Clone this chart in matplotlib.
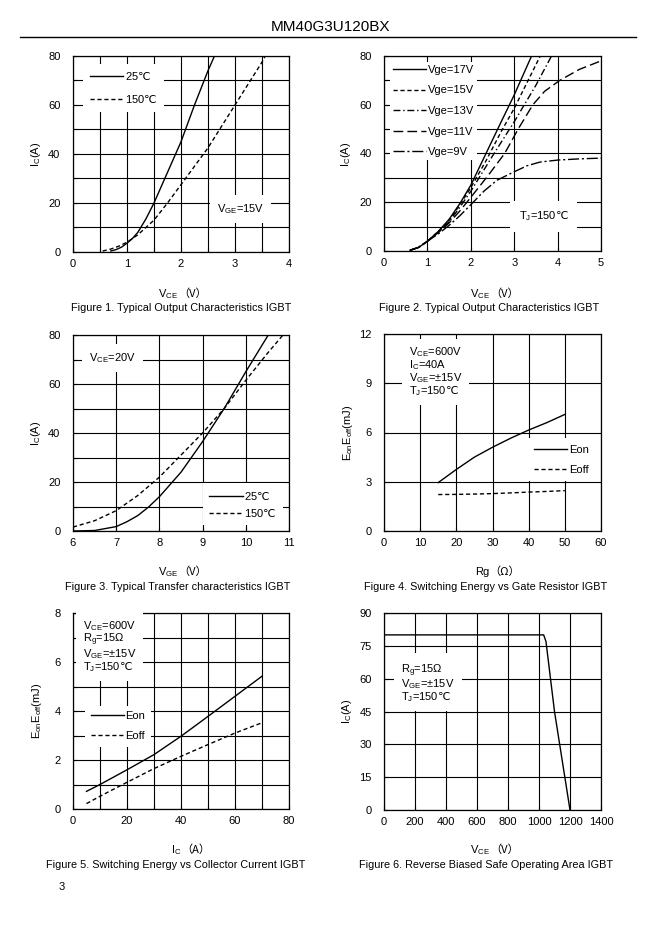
import matplotlib.pyplot as plt
import numpy as np
from matplotlib.ticker import MultipleLocator

plt.rcParams['font.family'] = ['Liberation Sans', 'DejaVu Sans']
plt.rcParams['mathtext.fontset'] = 'custom'
plt.rcParams['mathtext.rm'] = 'Liberation Sans'
plt.rcParams['mathtext.it'] = 'Liberation Sans'
plt.rcParams['mathtext.sf'] = 'DejaVu Sans'
plt.rcParams['axes.linewidth'] = 0.9

DEG = r'$\mathsf{℃}$'
CJK = ['Noto Sans CJK SC', 'DejaVu Sans']

# --- Figure 1: output characteristics, VGE=15V ---
vce1_25 = [0.7, 0.8, 0.9, 1.0, 1.1, 1.2, 1.35, 1.5, 1.7, 2.0, 2.25, 2.5, 2.62]
ic1_25 = [0.4, 1.0, 2.0, 3.6, 5.5, 8.0, 13.5, 20, 30, 45, 60, 74, 80]
vce1_150 = [0.55, 0.7, 0.85, 1.0, 1.2, 1.5, 1.75, 2.0, 2.5, 3.0, 3.5, 3.56]
ic1_150 = [0.4, 1.2, 2.4, 4.0, 7, 13, 20, 27.5, 42.5, 60, 77.5, 80]

# --- Figure 2: output characteristics vs Vge, TJ=150C ---
vce2_17 = [0.6, 0.8, 1.0, 1.25, 1.5, 1.75, 2.0, 2.35, 2.7, 3.0, 3.4]
ic2_17 = [0.3, 1.5, 4, 8, 13, 19.5, 27, 40, 53, 64, 80]
vce2_15 = [0.6, 0.8, 1.0, 1.25, 1.5, 1.75, 2.0, 2.35, 2.7, 3.0, 3.6]
ic2_15 = [0.3, 1.5, 4, 8, 12.5, 19, 26, 37, 49, 58.5, 80]
vce2_13 = [0.6, 0.8, 1.0, 1.25, 1.5, 1.75, 2.0, 2.5, 3.0, 3.5, 3.86]
ic2_13 = [0.3, 1.5, 4, 7.8, 12, 18, 24.5, 39, 53, 68, 80]
vce2_11 = [0.6, 0.8, 1.0, 1.25, 1.5, 1.75, 2.0, 2.4, 2.78, 3.09, 3.43, 3.7, 4.05, 4.5, 5.0]
ic2_11 = [0.3, 1.5, 4, 7.5, 11.5, 16.5, 22, 31, 40, 50, 60, 65.5, 70, 74.5, 78]
vce2_9 = [0.6, 0.8, 1.0, 1.25, 1.5, 1.75, 2.0, 2.3, 2.6, 3.0, 3.3, 3.6, 4.0, 4.5, 5.0]
ic2_9 = [0.3, 1.5, 4, 7, 10.5, 14.5, 19, 24.5, 29, 32.5, 35, 36.5, 37.3, 37.8, 38.1]

# --- Figure 3: transfer characteristics, VCE=20V ---
vge3_25 = [6.0, 6.5, 7.0, 7.25, 7.5, 7.75, 8.0, 8.5, 9.0, 9.5, 10.0, 10.52]
ic3_25 = [0, 0.2, 1.8, 3.8, 6.3, 9.8, 14, 24, 36.5, 50, 65, 80]
vge3_150 = [6.0, 6.5, 7.0, 7.5, 8.0, 8.5, 9.0, 9.5, 10.0, 10.5, 10.86]
ic3_150 = [1.6, 4.2, 8.3, 14.5, 22, 31, 40, 50, 61.5, 72.5, 80]

# --- Figure 4: switching energy vs Rg ---
rg4 = [15, 20, 25, 30, 35, 40, 45, 50]
eon4 = [2.95, 3.75, 4.5, 5.1, 5.65, 6.15, 6.6, 7.1]
eoff4 = [2.22, 2.23, 2.25, 2.28, 2.32, 2.37, 2.41, 2.46]

# --- Figure 5: switching energy vs Ic ---
ic5 = [5, 10, 20, 30, 40, 50, 60, 70]
eon5 = [0.72, 1.0, 1.6, 2.22, 2.97, 3.78, 4.6, 5.42]
eoff5 = [0.22, 0.52, 1.09, 1.65, 2.15, 2.63, 3.1, 3.52]

# --- Figure 6: RBSOA ---
vce6 = [0, 1030, 1045, 1100, 1200]
ic6 = [80, 80, 77, 45, 0]

W, H = 661, 936
fig = plt.figure(figsize=(W / 100, H / 100), dpi=100)
fig.patch.set_facecolor('white')
FS = 8


def pax(l, t, r, b):
    return fig.add_axes([l / W, 1 - b / H, (r - l) / W, (b - t) / H])


def style(ax, xlim, ylim, xmaj, ymaj, xgrid, ygrid):
    ax.set_xlim(*xlim)
    ax.set_ylim(*ylim)
    ax.xaxis.set_major_locator(MultipleLocator(xmaj))
    ax.yaxis.set_major_locator(MultipleLocator(ymaj))
    ax.xaxis.set_minor_locator(MultipleLocator(xgrid))
    ax.yaxis.set_minor_locator(MultipleLocator(ygrid))
    ax.grid(which='both', color='black', lw=0.8)
    ax.tick_params(which='both', direction='in', length=3, width=0.8, labelsize=FS)
    ax.tick_params(axis='x', pad=5)
    ax.tick_params(axis='y', pad=9)
    for s in ax.spines.values():
        s.set_color('black')


def legend(ax, **kw):
    return ax.legend(frameon=True, facecolor='white', edgecolor='none', framealpha=1,
                     fancybox=False, fontsize=FS, handletextpad=0.15, **kw)


def box_text(ax, x, y, s, pad=4, **kw):
    ax.text(x, y, s, fontsize=FS, bbox=dict(facecolor='white', edgecolor='none', pad=pad), **kw)


def fig_label(x, y, s, size=FS, **kw):
    fig.text(x / W, 1 - y / H, s, fontsize=size, ha='center', va='center', **kw)


def unit_label(x, y, name, unit):
    # quantity with subscript, then the full-width bracket unit in a CJK font
    fig.text(x / W, 1 - y / H, name, fontsize=FS, ha='right', va='baseline')
    fig.text(x / W, 1 - y / H, '（' + unit + '）', fontsize=FS, ha='left', va='baseline', family=CJK)


lw = 1.0
CAP = 7.8

# header
fig_label(330, 27, 'MM40G3U120BX', size=11)
fig.add_artist(plt.Line2D([20 / W, 636 / W], [1 - 37 / H, 1 - 37 / H], color='black', lw=1.0))

# Figure 1
ax1 = pax(73, 56, 289, 252)
style(ax1, (0, 4), (0, 80), 1, 20, 0.5, 10)
ax1.plot(vce1_25, ic1_25, color='black', lw=lw, label='25' + DEG)
ax1.plot(vce1_150, ic1_150, color='black', lw=lw, ls=(0, (3, 2)), label='150' + DEG)
legend(ax1, loc='upper left', bbox_to_anchor=(0.02, 0.99), handlelength=3.0, labelspacing=1.0, borderpad=0.6)
box_text(ax1, 3.1, 17.5, r'V$_{\mathrm{GE}}$=15V', ha='center', va='center', pad=5)
unit_label(178, 297, r'V$_{\mathrm{CE}}$', 'V')
fig_label(181, 308, 'Figure 1. Typical Output Characteristics IGBT', size=CAP)
fig_label(36, 154, r'I$_{\mathrm{C}}$(A)', rotation=90)

# Figure 2
ax2 = pax(384, 56, 601, 251)
style(ax2, (0, 5), (0, 80), 1, 20, 1, 10)
ax2.plot(vce2_17, ic2_17, color='black', lw=lw, label='Vge=17V')
ax2.plot(vce2_15, ic2_15, color='black', lw=lw, ls=(0, (3, 2)), label='Vge=15V')
ax2.plot(vce2_13, ic2_13, color='black', lw=lw, ls=(0, (5, 2, 1, 2)), label='Vge=13V')
ax2.plot(vce2_11, ic2_11, color='black', lw=lw, ls=(0, (7, 3)), label='Vge=11V')
ax2.plot(vce2_9, ic2_9, color='black', lw=lw, ls=(0, (8, 2, 1.5, 2)), label='Vge=9V')
legend(ax2, loc='upper left', bbox_to_anchor=(0.0, 1.0), handlelength=3.0, labelspacing=0.95, borderpad=0.3)
box_text(ax2, 3.68, 14.2, r'T$_{\mathrm{J}}$=150' + DEG, ha='center', va='center', pad=6)
unit_label(490, 297, r'V$_{\mathrm{CE}}$', 'V')
fig_label(489, 308, 'Figure 2. Typical Output Characteristics IGBT', size=CAP)
fig_label(346, 154, r'I$_{\mathrm{C}}$(A)', rotation=90)

# Figure 3
ax3 = pax(73, 335, 289, 531)
style(ax3, (6, 11), (0, 80), 1, 20, 1, 10)
ax3.plot(vge3_25, ic3_25, color='black', lw=lw, label='25' + DEG)
ax3.plot(vge3_150, ic3_150, color='black', lw=lw, ls=(0, (3, 2)), label='150' + DEG)
legend(ax3, loc='lower right', bbox_to_anchor=(1.0, 0.0), handlelength=3.0, labelspacing=0.45, borderpad=0.6)
box_text(ax3, 6.92, 70.5, r'V$_{\mathrm{CE}}$=20V', ha='center', va='center', pad=5)
unit_label(178, 575, r'V$_{\mathrm{GE}}$', 'V')
fig_label(178, 587, 'Figure 3. Typical Transfer characteristics IGBT', size=CAP)
fig_label(36, 433, r'I$_{\mathrm{C}}$(A)', rotation=90)

# Figure 4
ax4 = pax(384, 334, 601, 531)
style(ax4, (0, 60), (0, 12), 10, 3, 10, 3)
ax4.plot(rg4, eon4, color='black', lw=lw, label='Eon')
ax4.plot(rg4, eoff4, color='black', lw=lw, ls=(0, (3, 2)), label='Eoff')
legend(ax4, loc='upper right', bbox_to_anchor=(1.0, 0.50), handlelength=3.0, labelspacing=0.9, borderpad=0.6)
box_text(ax4, 6.8, 11.3, 'V$_{\\mathrm{CE}}$=600V\nI$_{\\mathrm{C}}$=40A\nV$_{\\mathrm{GE}}$=\u00b115V\nT$_{\\mathrm{J}}$=150' + DEG,
         ha='left', va='top', pad=5, linespacing=0.9)
unit_label(489, 575, 'Rg', 'Ω')
fig_label(486, 587, 'Figure 4. Switching Energy vs Gate Resistor IGBT', size=CAP)
fig_label(348, 433, r'E$_{\mathrm{on}}$E$_{\mathrm{off}}$(mJ)', rotation=90)

# Figure 5
ax5 = pax(73, 613, 289, 809)
style(ax5, (0, 80), (0, 8), 20, 2, 10, 1)
ax5.plot(ic5, eon5, color='black', lw=lw, label='Eon')
ax5.plot(ic5, eoff5, color='black', lw=lw, ls=(0, (3, 2)), label='Eoff')
legend(ax5, loc='upper left', bbox_to_anchor=(0.03, 0.555), handlelength=3.0, labelspacing=0.9, borderpad=0.5)
box_text(ax5, 3.7, 7.75, 'V$_{\\mathrm{CE}}$=600V\nR$_{\\mathrm{g}}$=15\u03a9\nV$_{\\mathrm{GE}}$=\u00b115V\nT$_{\\mathrm{J}}$=150' + DEG,
         ha='left', va='top', pad=5, linespacing=0.9)
unit_label(181, 853, r'I$_{\mathrm{C}}$', 'A')
fig_label(176, 865, 'Figure 5. Switching Energy vs Collector Current IGBT', size=CAP)
fig_label(37, 711, r'E$_{\mathrm{on}}$E$_{\mathrm{off}}$(mJ)', rotation=90)

# Figure 6
ax6 = pax(384, 613, 601, 810)
style(ax6, (0, 1400), (0, 90), 200, 15, 200, 15)
ax6.plot(vce6, ic6, color='black', lw=lw)
box_text(ax6, 112, 67.5, 'R$_{\\mathrm{g}}$=15\u03a9\nV$_{\\mathrm{GE}}$=\u00b115V\nT$_{\\mathrm{J}}$=150' + DEG,
         ha='left', va='top', pad=5, linespacing=0.9)
unit_label(490, 853, r'V$_{\mathrm{CE}}$', 'V')
fig_label(486, 865, 'Figure 6. Reverse Biased Safe Operating Area IGBT', size=CAP)
fig_label(347, 711, r'I$_{\mathrm{C}}$(A)', rotation=90)

fig_label(62, 887, '3')

fig.savefig('out.png', dpi=100, facecolor='white')
